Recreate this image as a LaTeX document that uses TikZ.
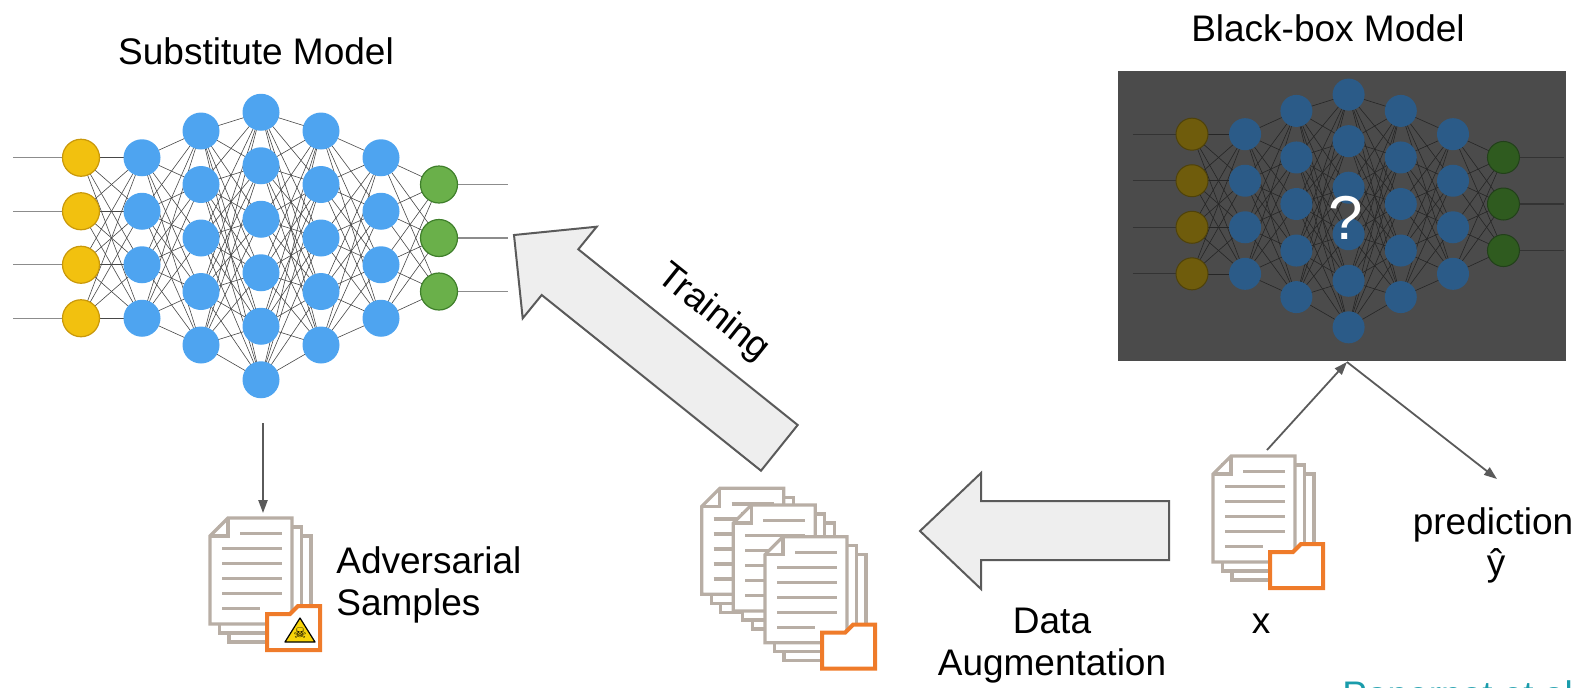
\documentclass[tikz,border=0pt]{standalone}
\usepackage{fontspec}
\setmainfont{Liberation Sans}
\newfontfamily\symbolfont{DejaVu Sans}
\usetikzlibrary{arrows.meta}

\pgfdeclarelayer{back}
\pgfdeclarelayer{wires}
\pgfsetlayers{back,wires,main}

% substitute network colours
\definecolor{inY}{HTML}{F2C10F}
\definecolor{inYd}{HTML}{C9980A}
\definecolor{hidB}{HTML}{4EA4F0}
\definecolor{outG}{HTML}{6AB04A}
\definecolor{outGd}{HTML}{3F7F2B}
% black-box colours
\definecolor{boxgrey}{HTML}{4B4B4B}
\definecolor{dimY}{HTML}{6F5C0C}
\definecolor{dimYd}{HTML}{4F420A}
\definecolor{dimB}{HTML}{2B5B88}
\definecolor{dimG}{HTML}{2F5B1F}
\definecolor{dimGd}{HTML}{22401A}
% icons and arrows
\definecolor{docgrey}{HTML}{B8AEA5}
\definecolor{foldorange}{HTML}{EF7B2A}
\definecolor{arrowfill}{HTML}{EEEEEE}
\definecolor{arrowline}{HTML}{5A5A5A}
\definecolor{citeteal}{HTML}{1A9CAB}
\definecolor{warnyellow}{HTML}{F7D40A}

% A fully connected network: #1 name prefix, #2 x of input column,
% #3 y of its centre, #4 scale
\newcommand\neuralnet[4]{%
  \foreach \lay/\nn/\ox/\oy in {1/4/0/0,2/4/61/0,3/5/120/0,4/6/180/8,5/5/240/0,6/4/300/0,7/3/358/0}{%
    \foreach \k in {1,...,\nn}{%
      \node[neuron=\lay] (#1-\lay-\k) at ({#2+#4*\ox},{#3+#4*(\oy+(\k-(\nn+1)/2)*53.5)}) {};
    }%
  }%
  \begin{pgfonlayer}{wires}
    \foreach \la/\na/\lb/\nb in {1/4/2/4,2/4/3/5,3/5/4/6,4/6/5/5,5/5/6/4,6/4/7/3}{%
      \foreach \ia in {1,...,\na}{%
        \foreach \jb in {1,...,\nb}{%
          \draw[synapse] (#1-\la-\ia.center) -- (#1-\lb-\jb.center);
        }%
      }%
    }%
    \foreach \k in {1,...,4}{%
      \path (#1-1-\k.center) ++({-68*#4},0) coordinate (#1-in-\k);
      \draw[feed] (#1-in-\k) -- (#1-1-\k.center);
    }%
    \foreach \k in {1,...,3}{%
      \path (#1-7-\k.center) ++({69*#4},0) coordinate (#1-out-\k);
      \draw[feed] (#1-7-\k.center) -- (#1-out-\k);
    }%
  \end{pgfonlayer}%
}

\tikzset{
  lbl/.style={font=\fontsize{18.5}{22}\selectfont, inner sep=0pt},
  neuron/.code={\ifnum#1=1 \pgfkeysalso{/tikz/inlayer}\else\ifnum#1=7 \pgfkeysalso{/tikz/outlayer}\else\pgfkeysalso{/tikz/hidlayer}\fi\fi},
  blockarrow/.style={fill=arrowfill, draw=arrowline, line width=1pt, line join=miter},
  link/.style={draw=arrowline, line width=0.9pt, -{Triangle[length=6.5pt,width=4.6pt]}},
  docedge/.style={draw=docgrey, line width=1.6pt, fill=white, line join=miter},
  docline/.style={draw=docgrey, line width=1.6pt},
  folderedge/.style={draw=foldorange, line width=2pt, fill=white, line join=miter},
  pics/docstack/.style={code={
    \draw[docedge] (19,18) rectangle ++(82,106);
    \draw[docedge] (9.5,9) rectangle ++(82,106);
    \draw[docedge] (0,18) -- (18,0) -- (82,0) -- (82,106) -- (0,106) -- cycle;
    \draw[docedge, fill=none] (0,18) -- (18,18) -- (18,0);
    \draw[docline] (30,15.7) -- (72,15.7);
    \foreach \yy in {30.7,45.7,60.7,75.7} \draw[docline] (12,\yy) -- (72,\yy);
    \draw[docline] (12,90.7) -- (#1,90.7);
  }},
  pics/folder/.style={code={
    \draw[folderedge] (57,96) -- (80,96) -- (88,88) -- (110,88) -- (110,132) -- (57,132) -- cycle;
  }}
}

\begin{document}
\begin{tikzpicture}[x=0.5pt,y=-0.5pt]
\useasboundingbox (0,0) rectangle (1576,687);
\clip (0,0) rectangle (1576,687);

% ---------- substitute model ----------
\node[lbl, anchor=base] (subtitle) at (256,64) {Substitute Model};
\begin{scope}[
  neuronbase/.style={circle, inner sep=0pt, minimum size=18.5pt, line width=0.6pt},
  inlayer/.style={neuronbase, fill=inY, draw=inYd},
  hidlayer/.style={neuronbase, fill=hidB},
  outlayer/.style={neuronbase, fill=outG, draw=outGd},
  synapse/.style={draw=black!72, line width=0.3pt},
  feed/.style={draw=black!45, line width=0.7pt}]
  \neuralnet{s}{81}{238}{1}
\end{scope}

% ---------- black-box model ----------
\node[lbl, anchor=base] (bbtitle) at (1328,41) {Black-box Model};
\begin{pgfonlayer}{back}
  \node[fill=boxgrey, minimum width=224pt, minimum height=145pt, inner sep=0pt] (bbox) at (1342,216) {};
\end{pgfonlayer}
\begin{scope}[
  neuronbase/.style={circle, inner sep=0pt, minimum size=16pt, line width=0.5pt},
  inlayer/.style={neuronbase, fill=dimY, draw=dimYd},
  hidlayer/.style={neuronbase, fill=dimB},
  outlayer/.style={neuronbase, fill=dimG, draw=dimGd},
  synapse/.style={draw=black!85, line width=0.3pt},
  feed/.style={draw=black!80, line width=0.6pt}]
  \neuralnet{b}{1192}{204}{0.87}
\end{scope}
\node[font=\fontsize{31}{36}\selectfont, text=white, inner sep=0pt] (query) at (1346,218) {?};

% ---------- block arrows ----------
\draw[blockarrow] (514,235) -- (596.7,226.7) -- (578.3,249.3) -- (797.7,425)
  -- (761,470.7) -- (541.7,295) -- (522.7,318.3) -- cycle;
\node[lbl, rotate=-38.7] (training) at (713,313) {Training};

\draw[blockarrow] (920,531) -- (981,473) -- (981,501) -- (1169,501)
  -- (1169,560) -- (981,560) -- (981,589) -- cycle;
\node[lbl, anchor=base] (data) at (1052,633) {Data};
\node[lbl, anchor=base] (augment) at (1052,675) {Augmentation};

% ---------- adversarial samples ----------
\coordinate (subfoot) at (263,423);
\coordinate (advtop) at (263,513);
\draw[link] (subfoot) -- (advtop);
\pic (advdocs) at (210,518) {docstack=50};
\pic (advfolder) at (210,518) {folder};
\draw[fill=warnyellow, draw=black, line width=0.6pt, line join=round]
  (300,618) -- (315,642) -- (285,642) -- cycle;
\node[font=\symbolfont\fontsize{7.5}{8}\selectfont, inner sep=0pt] (skull) at (300,633) {☠};
\node[lbl, anchor=base west] (advA) at (336,573) {Adversarial};
\node[lbl, anchor=base west] (advB) at (336,615) {Samples};

% ---------- augmented data ----------
\pic (augA) at (701.7,488.3) {docstack=72};
\pic (augB) at (733.3,505) {docstack=72};
\pic (augC) at (765,536.7) {docstack=50};
\pic (augfolder) at (765,536.7) {folder};

% ---------- query x and prediction ----------
\pic (xdocs) at (1213,456) {docstack=50};
\pic (xfolder) at (1213,456) {folder};
\node[lbl, anchor=base] (xlabel) at (1261,633) {x};
\coordinate (xtop) at (1267,450);
\coordinate (bbport) at (1347,362);
\coordinate (predtop) at (1497,479);
\draw[link] (xtop) -- (bbport);
\draw[link] (bbport) -- (predtop);
\node[lbl, anchor=base] (pred) at (1493,534) {prediction};
\node[lbl, anchor=base] (yhat) at (1496,575) {ŷ};

% ---------- citation ----------
\node[lbl, anchor=base west, text=citeteal] (cite) at (1342,707) {Papernot et al.};
\end{tikzpicture}
\end{document}
